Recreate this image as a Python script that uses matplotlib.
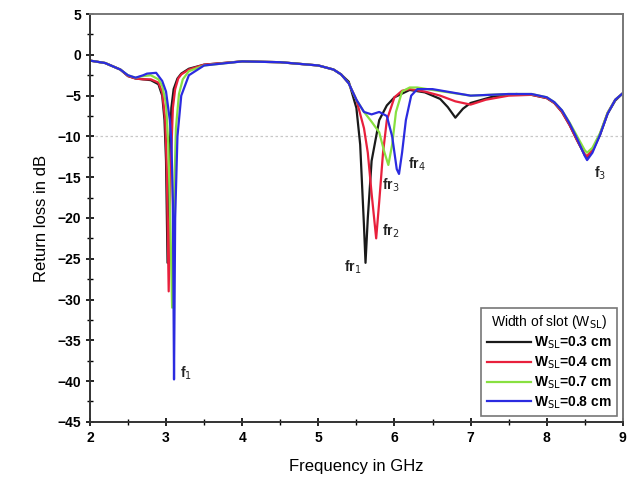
import numpy as np
import matplotlib.pyplot as plt
from matplotlib.ticker import MultipleLocator

# frequency samples (GHz) and return loss (dB)
f_k = [2.0, 2.2, 2.4, 2.5, 2.6, 2.7, 2.8, 2.9, 2.95, 2.98, 3.0, 3.02, 3.04, 3.07, 3.1, 3.15,
       3.2, 3.3, 3.5, 4.0, 4.5, 5.0, 5.2, 5.3, 5.4, 5.5, 5.55, 5.6, 5.62, 5.65, 5.7, 5.8,
       5.9, 6.0, 6.2, 6.4, 6.6, 6.7, 6.8, 6.9, 7.0, 7.3, 7.6, 7.8, 8.0, 8.1, 8.2, 8.3,
       8.4, 8.5, 8.53, 8.6, 8.7, 8.8, 8.9, 9.0]
s_k = [-0.7, -1.0, -1.8, -2.6, -2.9, -3.0, -3.1, -3.6, -5.0, -8.0, -13.0, -25.5, -14.0, -6.5, -4.2, -2.9,
       -2.3, -1.7, -1.2, -0.8, -0.9, -1.3, -1.8, -2.4, -3.3, -6.5, -11.0, -21.0, -25.5, -20.0, -13.0, -8.0,
       -6.2, -5.2, -4.3, -4.6, -5.4, -6.4, -7.7, -6.6, -5.9, -5.1, -4.8, -4.9, -5.3, -5.9, -7.0, -8.6,
       -10.5, -12.3, -12.5, -11.8, -9.8, -7.2, -5.6, -4.7]

f_r = [2.0, 2.2, 2.4, 2.5, 2.6, 2.7, 2.8, 2.9, 2.95, 2.99, 3.01, 3.035, 3.06, 3.09, 3.12, 3.16,
       3.2, 3.3, 3.5, 4.0, 4.5, 5.0, 5.2, 5.3, 5.4, 5.5, 5.6, 5.65, 5.7, 5.76, 5.8, 5.85,
       5.9, 6.0, 6.1, 6.2, 6.4, 6.6, 6.8, 7.0, 7.2, 7.5, 7.8, 8.0, 8.1, 8.2, 8.3, 8.4,
       8.5, 8.53, 8.6, 8.7, 8.8, 8.9, 9.0]
s_r = [-0.7, -1.0, -1.8, -2.6, -2.9, -3.0, -3.0, -3.4, -4.6, -8.0, -14.0, -29.0, -14.5, -6.5, -4.2, -2.9,
       -2.4, -1.8, -1.2, -0.8, -0.9, -1.3, -1.8, -2.4, -3.5, -5.5, -9.0, -12.0, -17.0, -22.5, -18.0, -12.0,
       -8.0, -5.2, -4.4, -4.2, -4.5, -5.0, -5.7, -6.1, -5.5, -5.0, -4.9, -5.3, -5.9, -7.0, -8.6, -10.5,
       -12.2, -12.4, -11.7, -9.7, -7.1, -5.5, -4.7]

f_g = [2.0, 2.2, 2.4, 2.5, 2.6, 2.7, 2.8, 2.9, 2.95, 3.0, 3.03, 3.06, 3.08, 3.1, 3.13, 3.17,
       3.22, 3.3, 3.5, 4.0, 4.5, 5.0, 5.2, 5.3, 5.4, 5.5, 5.6, 5.7, 5.8, 5.87, 5.92, 5.97,
       6.02, 6.1, 6.2, 6.3, 6.5, 7.0, 7.5, 7.8, 8.0, 8.1, 8.2, 8.3, 8.4, 8.5, 8.53, 8.6,
       8.7, 8.8, 8.9, 9.0]
s_g = [-0.7, -1.0, -1.8, -2.5, -2.8, -2.6, -2.5, -3.0, -3.8, -6.0, -11.0, -22.0, -31.0, -20.0, -9.0, -4.8,
       -3.0, -2.0, -1.3, -0.8, -0.9, -1.3, -1.8, -2.4, -3.5, -5.5, -7.0, -8.2, -9.5, -12.0, -13.5, -11.0,
       -7.0, -4.5, -4.0, -4.0, -4.3, -5.0, -4.8, -4.8, -5.2, -5.8, -6.8, -8.3, -10.0, -11.7, -12.0, -11.4,
       -9.6, -7.1, -5.5, -4.7]

f_b = [2.0, 2.2, 2.4, 2.5, 2.6, 2.7, 2.75, 2.87, 2.95, 3.0, 3.05, 3.07, 3.09, 3.105, 3.12, 3.15,
       3.2, 3.3, 3.5, 4.0, 4.5, 5.0, 5.2, 5.3, 5.4, 5.5, 5.6, 5.7, 5.8, 5.9, 5.97, 6.03,
       6.06, 6.1, 6.15, 6.22, 6.3, 6.5, 7.0, 7.5, 7.8, 8.0, 8.1, 8.2, 8.3, 8.4, 8.5, 8.53,
       8.6, 8.7, 8.8, 8.9, 9.0]
s_b = [-0.7, -1.0, -1.8, -2.5, -2.8, -2.5, -2.3, -2.2, -3.2, -4.5, -8.0, -10.5, -18.0, -39.8, -20.0, -10.0,
       -5.0, -2.5, -1.3, -0.8, -0.9, -1.3, -1.8, -2.4, -3.5, -5.5, -7.0, -7.3, -7.0, -7.5, -10.0, -14.0,
       -14.6, -12.0, -8.0, -5.0, -4.2, -4.2, -5.0, -4.8, -4.8, -5.2, -5.8, -6.8, -8.4, -10.3, -12.4, -12.9,
       -12.0, -9.8, -7.2, -5.5, -4.7]

names = ['W$_{\\mathrm{SL}}$=0.3 cm', 'W$_{\\mathrm{SL}}$=0.4 cm',
         'W$_{\\mathrm{SL}}$=0.7 cm', 'W$_{\\mathrm{SL}}$=0.8 cm']
colors = ['#1a1a1a', '#e8203c', '#88e040', '#2b2be0']

# resonance labels: (text, x, y)
marks = [('f$_\\mathrm{1}$', 3.26, -39.0), ('fr$_\\mathrm{1}$', 5.45, -26.0),
         ('fr$_\\mathrm{2}$', 5.95, -21.6), ('fr$_\\mathrm{3}$', 5.95, -16.0),
         ('fr$_\\mathrm{4}$', 6.29, -13.4), ('f$_\\mathrm{3}$', 8.7, -14.5)]

plt.rcParams['font.family'] = ['Liberation Sans', 'DejaVu Sans']
plt.rcParams['mathtext.default'] = 'regular'

fig = plt.figure(figsize=(6.33, 4.86), dpi=100)
ax = fig.add_axes([0.142, 0.132, 0.842, 0.839])

series = [(f_k, s_k), (f_r, s_r), (f_g, s_g), (f_b, s_b)]
for (fx, sy), c, n in zip(series, colors, names):
    ax.plot(fx, sy, color=c, lw=1.6, label=n, solid_joinstyle='round')

ax.axhline(-10, color='#c8c8c8', lw=0.9, ls=(0, (2, 2)), zorder=0)

for t, x, y in marks:
    ax.text(x, y, t, fontsize=10, fontweight='bold', color='#222222', ha='center', va='center')

ax.set_xlim(2, 9)
ax.set_ylim(-45, 5)
ax.xaxis.set_major_locator(MultipleLocator(1))
ax.xaxis.set_minor_locator(MultipleLocator(0.5))
ax.yaxis.set_major_locator(MultipleLocator(5))
ax.yaxis.set_minor_locator(MultipleLocator(2.5))
ax.tick_params(which='major', direction='inout', length=6, width=1.2, labelsize=10)
ax.tick_params(which='minor', direction='inout', length=4, width=1.0)
for lab in ax.get_xticklabels() + ax.get_yticklabels():
    lab.set_fontweight('bold')

for side in ['left', 'bottom']:
    ax.spines[side].set_linewidth(1.4)
    ax.spines[side].set_color('#333333')
for side in ['top', 'right']:
    ax.spines[side].set_linewidth(1.4)
    ax.spines[side].set_color('#777777')

ax.set_xlabel('Frequency in GHz', fontsize=12, labelpad=10)
ax.set_ylabel('Return loss in dB', fontsize=12, labelpad=6)

leg = ax.legend(loc='lower right', title='Width of slot (W$_{\\mathrm{SL}}$)', fontsize=10,
                title_fontsize=10, fancybox=False, framealpha=1, edgecolor='#777777',
                handlelength=3.2, handletextpad=0.2, labelspacing=0.25, borderpad=0.4,
                borderaxespad=0.4)
leg.get_frame().set_linewidth(1.2)
for t in leg.get_texts():
    t.set_fontweight('bold')

fig.savefig('out.png', dpi=100)
